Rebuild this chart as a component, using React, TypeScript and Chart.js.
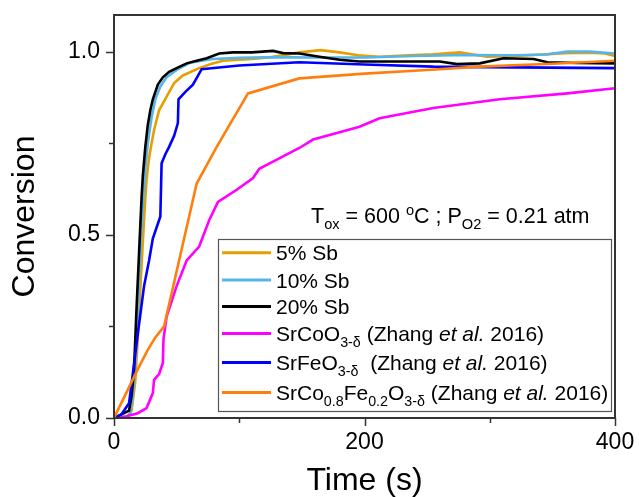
import React, { useEffect, useRef } from 'react';
import { Chart, registerables } from 'chart.js';

Chart.register(...registerables);

type Seg = { t: string; sub?: boolean; sup?: boolean; it?: boolean };

// ---- axis ticks ----
const xTicks = [0, 200, 400];
const xTickLabels = ['0', '200', '400'];
const xMinorTicks = [100, 300];
const yTicks = [0, 0.5, 1.0];
const yTickLabels = ['0.0', '0.5', '1.0'];
const yMinorTicks = [0.25, 0.75];

// ---- series: [time (s), conversion] ----
const sb5: [number, number][] = [
  [0, 0], [10, 0], [14, 0.02], [17, 0.1], [19, 0.22], [21, 0.35], [23, 0.48], [25, 0.6],
  [26, 0.65], [28, 0.71], [30, 0.75], [32, 0.786], [36, 0.84], [42, 0.877], [48, 0.914],
  [55, 0.935], [68, 0.955], [78, 0.967], [87, 0.975], [110, 0.98], [126, 0.985], [148, 0.998],
  [165, 1.004], [180, 0.998], [195, 0.99], [212, 0.986], [235, 0.99], [255, 0.993], [276, 0.998],
  [298, 0.986], [320, 0.988], [346, 0.993], [360, 0.996], [380, 0.997], [392, 0.995], [400, 0.988],
];
const sb10: [number, number][] = [
  [0, 0], [8, 0], [13, 0.01], [15, 0.06], [17, 0.15], [19, 0.3], [21, 0.45], [23, 0.58],
  [25, 0.68], [27, 0.75], [30, 0.82], [33, 0.87], [37, 0.905], [42, 0.93], [50, 0.95],
  [61, 0.97], [70, 0.975], [79, 0.98], [100, 0.983], [130, 0.985], [160, 0.984], [200, 0.984],
  [240, 0.988], [280, 0.991], [320, 0.99], [345, 0.992], [362, 1.0], [380, 1.0], [400, 0.995],
];
const sb20: [number, number][] = [
  [0, 0], [6, 0.01], [12, 0.02], [14, 0.06], [16, 0.13], [18, 0.3], [20, 0.45], [22, 0.6],
  [23, 0.66], [25, 0.74], [27, 0.8], [29, 0.84], [31, 0.87], [35, 0.91], [39, 0.93], [44, 0.945],
  [50, 0.955], [58, 0.968], [66, 0.975], [74, 0.982], [84, 0.995], [95, 0.998], [110, 0.998],
  [127, 1.002], [135, 0.996], [148, 0.995], [164, 0.986], [180, 0.978], [196, 0.973], [230, 0.973],
  [260, 0.973], [274, 0.966], [292, 0.968], [311, 0.982], [335, 0.98], [346, 0.971], [370, 0.969],
  [400, 0.968],
];
const srCoO3: [number, number][] = [
  [0, 0], [10, 0.005], [19, 0.013], [26, 0.027], [31, 0.068], [32, 0.104], [36, 0.12], [39, 0.15],
  [39.5, 0.214], [42, 0.277], [50, 0.36], [58, 0.43], [68, 0.468], [76, 0.54], [83, 0.59],
  [98, 0.623], [111, 0.655], [116, 0.68], [130, 0.705], [148, 0.737], [159, 0.76], [175, 0.775],
  [196, 0.795], [212, 0.818], [255, 0.846], [308, 0.87], [362, 0.886], [400, 0.9],
];
const srFeO3: [number, number][] = [
  [0, 0], [6, 0.01], [12, 0.04], [15, 0.12], [19, 0.23], [24, 0.36], [28, 0.43], [31, 0.49],
  [37, 0.55], [38, 0.695], [41, 0.72], [44, 0.74], [48, 0.77], [51, 0.805], [51.5, 0.87],
  [57, 0.89], [63, 0.91], [70, 0.952], [100, 0.962], [148, 0.971], [200, 0.965], [255, 0.959],
  [320, 0.957], [400, 0.955],
];
const scf: [number, number][] = [
  [0, 0], [10, 0.07], [20, 0.14], [27, 0.186], [33, 0.22], [40, 0.25], [66, 0.64], [82, 0.74],
  [107, 0.886], [148, 0.927], [200, 0.94], [250, 0.95], [292, 0.959], [350, 0.967], [400, 0.975],
];

const seriesData = [sb5, sb10, sb20, srCoO3, srFeO3, scf];
const seriesNames = ['5% Sb', '10% Sb', '20% Sb', 'SrCoO3-δ', 'SrFeO3-δ', 'SrCo0.8Fe0.2O3-δ'];
const seriesColors = ['#E69F00', '#56B4E9', '#000000', '#FF00FF', '#0000FF', '#FF7F0E'];

const legendLabels: Seg[][] = [
  [{ t: '5% Sb' }],
  [{ t: '10% Sb' }],
  [{ t: '20% Sb' }],
  [{ t: 'SrCoO' }, { t: '3-δ', sub: true }, { t: ' (Zhang ' }, { t: 'et al.', it: true }, { t: ' 2016)' }],
  [{ t: 'SrFeO' }, { t: '3-δ', sub: true }, { t: '  (Zhang ' }, { t: 'et al.', it: true }, { t: ' 2016)' }],
  [
    { t: 'SrCo' }, { t: '0.8', sub: true }, { t: 'Fe' }, { t: '0.2', sub: true }, { t: 'O' },
    { t: '3-δ', sub: true }, { t: ' (Zhang ' }, { t: 'et al.', it: true }, { t: ' 2016)' },
  ],
];
const annotation: Seg[] = [
  { t: 'T' }, { t: 'ox', sub: true }, { t: ' = 600 ' }, { t: 'o', sup: true }, { t: 'C ; P' },
  { t: 'O2', sub: true }, { t: ' = 0.21 atm' },
];

const FONT = '"Liberation Sans", Arial, Helvetica, sans-serif';

function drawRich(ctx: CanvasRenderingContext2D, segs: Seg[], x: number, y: number, size: number) {
  let cx = x;
  ctx.textAlign = 'left';
  ctx.textBaseline = 'alphabetic';
  for (const s of segs) {
    const small = s.sub || s.sup;
    const fs = small ? size * 0.68 : size;
    ctx.font = `${s.it ? 'italic ' : ''}${fs}px ${FONT}`;
    const dy = s.sub ? size * 0.28 : s.sup ? -size * 0.38 : 0;
    ctx.fillText(s.t, cx, y + dy);
    cx += ctx.measureText(s.t).width;
  }
}

const zeroPad = (s: any) => {
  s.paddingLeft = 0;
  s.paddingRight = 0;
  s.paddingTop = 0;
  s.paddingBottom = 0;
};

const decorPlugin = {
  id: 'decor',
  afterDraw(chart: any) {
    const { ctx, chartArea } = chart;
    const { left, right, top, bottom } = chartArea;
    const xs = chart.scales.x;
    const ys = chart.scales.y;
    ctx.save();
    // frame
    ctx.strokeStyle = '#333333';
    ctx.lineWidth = 2;
    ctx.strokeRect(left, top, right - left, bottom - top);
    // ticks
    ctx.beginPath();
    for (const v of xTicks) {
      const p = Math.round(xs.getPixelForValue(v)) + 0.5;
      ctx.moveTo(p, bottom); ctx.lineTo(p, bottom + 8);
    }
    for (const v of xMinorTicks) {
      const p = Math.round(xs.getPixelForValue(v)) + 0.5;
      ctx.moveTo(p, bottom); ctx.lineTo(p, bottom + 5);
    }
    for (const v of yTicks) {
      const p = Math.round(ys.getPixelForValue(v)) + 0.5;
      ctx.moveTo(left, p); ctx.lineTo(left - 8, p);
    }
    for (const v of yMinorTicks) {
      const p = Math.round(ys.getPixelForValue(v)) + 0.5;
      ctx.moveTo(left, p); ctx.lineTo(left - 5, p);
    }
    ctx.lineWidth = 1.5;
    ctx.stroke();

    // annotation
    ctx.fillStyle = '#000000';
    drawRich(ctx, annotation, 311, 223, 21.5);

    // legend
    const bx = 218.5, by = 239.5, bw = 393, bh = 172;
    ctx.fillStyle = '#ffffff';
    ctx.fillRect(bx, by, bw, bh);
    ctx.strokeStyle = '#555555';
    ctx.lineWidth = 1.2;
    ctx.strokeRect(bx, by, bw, bh);
    const rowY = [252.7, 280, 306.5, 333.5, 362.5, 392.5];
    legendLabels.forEach((segs, i) => {
      const y = rowY[i];
      ctx.strokeStyle = seriesColors[i];
      ctx.lineWidth = 3;
      ctx.beginPath();
      ctx.moveTo(222, y);
      ctx.lineTo(271, y);
      ctx.stroke();
      ctx.fillStyle = '#000000';
      drawRich(ctx, segs, 276, y + 7.5, 21);
    });
    ctx.restore();
  },
};

export default function App() {
  const ref = useRef<HTMLCanvasElement | null>(null);
  useEffect(() => {
    if (!ref.current) return;
    const chart = new Chart(ref.current, {
      type: 'line',
      data: {
        datasets: seriesData.map((d, i) => ({
          label: seriesNames[i],
          data: d.map(([x, y]) => ({ x, y })),
          borderColor: seriesColors[i],
          backgroundColor: seriesColors[i],
          borderWidth: 2.6,
          pointRadius: 0,
          tension: 0,
          fill: false,
          order: 10 - i,
        })),
      },
      options: {
        responsive: false,
        animation: false,
        events: [],
        layout: { padding: { top: 15, right: 24, left: 0, bottom: 0 } },
        plugins: { legend: { display: false }, tooltip: { enabled: false } },
        scales: {
          x: {
            type: 'linear',
            min: 0,
            max: 400,
            afterBuildTicks: (s: any) => { s.ticks = xTicks.map((v) => ({ value: v })); },
            afterFit: (s: any) => { s.height = 79; zeroPad(s); },
            grid: { display: false, drawTicks: false, tickLength: 0 },
            border: { display: false },
            ticks: {
              color: '#000000',
              font: { family: FONT, size: 23 },
              padding: 11,
              maxRotation: 0,
              autoSkip: false,
              callback: (_v: any, i: number) => xTickLabels[i],
            },
            title: {
              display: true,
              text: 'Time (s)',
              color: '#000000',
              font: { family: FONT, size: 32, lineHeight: 1 },
              padding: { top: 0, bottom: 0 },
            },
          },
          y: {
            type: 'linear',
            min: 0,
            max: 1.1,
            afterBuildTicks: (s: any) => { s.ticks = yTicks.map((v) => ({ value: v })); },
            afterFit: (s: any) => { s.width = 114; zeroPad(s); },
            grid: { display: false, drawTicks: false, tickLength: 0 },
            border: { display: false },
            ticks: {
              color: '#000000',
              font: { family: FONT, size: 23 },
              padding: 14,
              autoSkip: false,
              callback: (_v: any, i: number) => yTickLabels[i],
            },
            title: {
              display: true,
              text: 'Conversion',
              color: '#000000',
              font: { family: FONT, size: 32, lineHeight: 1 },
              padding: { top: 9, bottom: 0 },
            },
          },
        },
      },
      plugins: [decorPlugin],
    } as any);
    return () => chart.destroy();
  }, []);
  return (
    <div style={{ position: 'absolute', left: 0, top: 0, width: 639, height: 497, background: '#ffffff' }}>
      <canvas ref={ref} width={639} height={497} style={{ display: 'block', width: 639, height: 497 }} />
    </div>
  );
}
